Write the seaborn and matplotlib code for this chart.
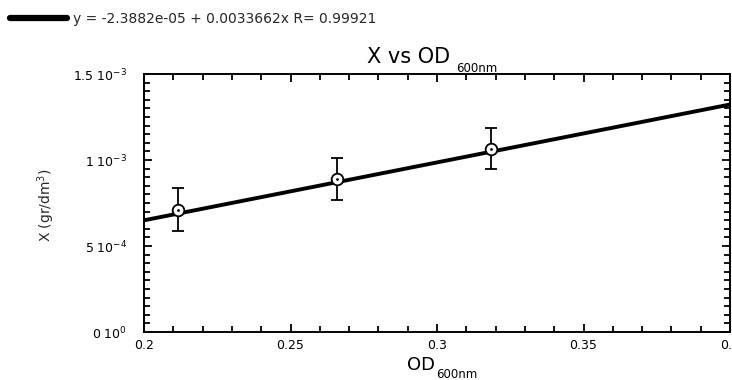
import matplotlib
matplotlib.use("Agg")
import matplotlib.pyplot as plt
import matplotlib.ticker as mticker
import seaborn as sns
import pandas as pd

# data
od_values = [0.2116, 0.2658, 0.3185]
x_values = [7.1e-4, 8.9e-4, 1.065e-3]
x_errors = [1.25e-4, 1.2e-4, 1.2e-4]
fit_intercept = -2.3882e-05
fit_slope = 0.0033662
fit_x_range = [0.2, 0.4]
x_ticks = [0.2, 0.25, 0.3, 0.35, 0.4]
x_tick_labels = ["0.2", "0.25", "0.3", "0.35", "0.4"]
y_ticks = [0.0, 5e-4, 1e-3, 1.5e-3]
y_tick_labels = [r"0 10$^{0}$", r"5 10$^{-4}$", r"1 10$^{-3}$", r"1.5 10$^{-3}$"]
legend_text = "y = -2.3882e-05 + 0.0033662x R= 0.99921"
title_main = "X vs OD"
xlabel_main = "OD"
subscript_text = "600nm"
ylabel_text = r"X (gr/dm$^{3}$)"

sns.set_theme(style="ticks")
plt.rcParams["font.family"] = ["DejaVu Sans"]

W, H = 732, 380
fig = plt.figure(figsize=(W / 100, H / 100), dpi=100)
ax = fig.add_axes([144 / W, 48 / H, (730 - 144) / W, (332 - 74) / H])

fit_df = pd.DataFrame({
    "od": fit_x_range,
    "x": [fit_intercept + fit_slope * v for v in fit_x_range],
})
sns.lineplot(data=fit_df, x="od", y="x", ax=ax, color="black", linewidth=2.8,
             label=legend_text)

ax.errorbar(od_values, x_values, yerr=x_errors, fmt="none", ecolor="black",
            elinewidth=1.3, capsize=4, capthick=1.3, zorder=3)
pts = pd.DataFrame({"od": od_values, "x": x_values})
sns.scatterplot(data=pts, x="od", y="x", ax=ax, s=70, facecolor="white",
                edgecolor="black", linewidth=1.3, zorder=4, legend=False)
sns.scatterplot(data=pts, x="od", y="x", ax=ax, s=4, color="black",
                linewidth=0, zorder=5, legend=False)

ax.set_xlim(0.2, 0.4)
ax.set_ylim(0, 1.5e-3)
ax.set_xticks(x_ticks)
ax.set_xticklabels(x_tick_labels)
ax.set_yticks(y_ticks)
ax.set_yticklabels(y_tick_labels)
ax.xaxis.set_minor_locator(mticker.MultipleLocator(0.01))
ax.yaxis.set_minor_locator(mticker.MultipleLocator(5e-5))
ax.tick_params(which="both", direction="in", top=True, right=True,
               labelsize=9, colors="black", width=1.3)
ax.tick_params(which="major", length=6)
ax.tick_params(axis="x", which="major", pad=5)
ax.tick_params(axis="y", which="major", pad=12)
ax.tick_params(which="minor", length=4)
for s in ax.spines.values():
    s.set_linewidth(1.4)
    s.set_color("black")

ax.set_xlabel("")
ax.set_ylabel(ylabel_text, fontsize=10)
ax.yaxis.set_label_coords((57 - 144) / (730 - 144), 0.49)

# title with small subscript
fig.text(367 / W, 1 - 63 / H, title_main, fontsize=15, ha="left",
         va="baseline", color="black")
fig.text(456 / W, 1 - 72 / H, subscript_text, fontsize=8.5, ha="left",
         va="baseline", color="black")
# x label with small subscript
fig.text(407 / W, 1 - 370 / H, xlabel_main, fontsize=13, ha="left",
         va="baseline", color="black")
fig.text(436 / W, 1 - 378 / H, subscript_text, fontsize=8.5, ha="left",
         va="baseline", color="black")

leg = ax.legend(loc="upper left", bbox_to_anchor=(4 / W, 1 - 6 / H),
                bbox_transform=fig.transFigure, frameon=False,
                fontsize=10, handlelength=4.1, handletextpad=0.5,
                borderaxespad=0)
for line in leg.get_lines():
    line.set_linewidth(4.5)

fig.savefig("out.png", dpi=100)
